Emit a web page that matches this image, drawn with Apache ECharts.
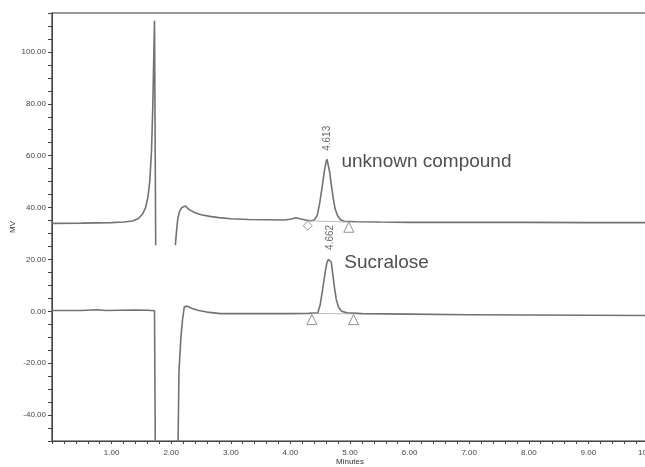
<!DOCTYPE html>
<html>
<head>
<meta charset="utf-8">
<script src="https://cdn.jsdelivr.net/npm/echarts@6/dist/echarts.min.js"></script>
<style>
  html, body { margin: 0; padding: 0; background: #fff; }
  #chart { width: 645px; height: 467px; }
</style>
</head>
<body>
<div id="chart"></div>
<script>
// upper trace (unknown compound sample), minutes / mV
var upperTime = [0, 0.5, 1.0, 1.2, 1.35, 1.45, 1.52, 1.57, 1.61, 1.64, 1.67, 1.69, 1.705, 1.72, 1.74, 1.9,
  2.07, 2.09, 2.11, 2.14, 2.18, 2.24, 2.30, 2.40, 2.50, 2.65, 2.80, 3.0, 3.3, 3.6, 3.9, 4.02, 4.09, 4.16, 4.25,
  4.34, 4.40, 4.45, 4.49, 4.53, 4.57, 4.60, 4.615, 4.63, 4.66, 4.70, 4.72, 4.75, 4.79, 4.84, 4.90, 5.1, 5.5,
  6.0, 7.0, 8.0, 9.0, 10.0]
var upperSignal = [33.9, 34.0, 34.2, 34.4, 34.8, 35.8, 37.5, 40, 44, 50, 62, 78, 95, 112, 25.5, null,
  25.5, 31, 35.6, 38.5, 40.0, 40.6, 39.2, 38.0, 37.2, 36.6, 36.1, 35.7, 35.4, 35.3, 35.2, 35.6, 36.1, 35.7, 35.2,
  34.9, 35.2, 37, 41.5, 47.5, 54, 57.8, 58.6, 58.0, 53.5, 46.5, 43.4, 39.5, 36.9, 35.3, 34.7, 34.5, 34.4,
  34.3, 34.3, 34.3, 34.2, 34.2]

// lower trace (sucralose standard)
var lowerTime = [0, 0.5, 0.76, 0.9, 1.4, 1.6, 1.72, 1.74, 2.10, 2.13, 2.16, 2.19, 2.22, 2.27, 2.33, 2.44, 2.6,
  2.83, 3.5, 4.0, 4.3, 4.46, 4.50, 4.54, 4.58, 4.61, 4.635, 4.66, 4.685, 4.71, 4.74, 4.77, 4.81, 4.86, 4.95,
  5.2, 6.0, 7.0, 8.0, 9.0, 10.0]
var lowerSignal = [0.3, 0.3, 0.6, 0.3, 0.5, 0.4, 0.2, -80, -80, -23.6, -11, -3.2, 1.7, 2.0, 1.3, 0.4, -0.3,
  -0.9, -0.9, -0.9, -0.8, -0.6, 2.5, 8.4, 14.5, 18.5, 20.0, 20.4, 19.0, 14.5, 9.0, 4.5, 1.5, 0.0, -0.6,
  -0.9, -1.1, -1.3, -1.4, -1.5, -1.6]

// peak annotations
var peakTimes = [4.613, 4.662]
var peakHeights = [58.6, 20.4]
var retentionLabels = ['4.613', '4.662']
var compoundNames = ['unknown compound', 'Sucralose']

// integration marks (start / end of each peak)
var diamondMarks = [[4.29, 33.0]]
var triangleMarks = [[4.98, 32.4], [4.36, -3.2], [5.06, -3.2]]
var baselineUpper = [[4.29, 34.9], [4.98, 34.4]]
var baselineLower = [[4.36, -0.8], [5.06, -1.0]]

var FONT = "'Liberation Sans', Arial, sans-serif"
var TRACE = '#727272'

function zip (xs, ys) {
  return xs.map(function (x, i) { return [x, ys[i]] })
}

var chart = echarts.init(document.getElementById('chart'))
chart.setOption({
  animation: false,
  backgroundColor: '#fff',
  grid: {
    left: 52, right: -3, top: 13, bottom: 26,
    outerBoundsMode: 'none', containLabel: false,
    show: true, borderColor: '#333', borderWidth: 1.2
  },
  xAxis: {
    type: 'value', min: 0, max: 10, interval: 0.2,
    name: 'Minutes', nameLocation: 'middle', nameGap: 17, nameMoveOverlap: false,
    nameTextStyle: { fontFamily: FONT, fontSize: 8, color: '#333' },
    axisLine: { onZero: false, lineStyle: { color: '#444', width: 1 } },
    axisTick: { length: 3, lineStyle: { color: '#444' } },
    splitLine: { show: false },
    axisLabel: {
      fontFamily: FONT, fontSize: 8, color: '#444', margin: 8,
      formatter: function (v) {
        return (v > 0 && Math.abs(v - Math.round(v)) < 1e-6) ? v.toFixed(2) : ''
      }
    }
  },
  yAxis: {
    type: 'value', min: -50, max: 115, interval: 5,
    name: 'MV', nameLocation: 'middle', nameGap: 35, nameRotate: 90, nameMoveOverlap: false,
    nameTextStyle: { fontFamily: FONT, fontSize: 8, color: '#333' },
    axisLine: { show: true, onZero: false, lineStyle: { color: '#444', width: 1 } },
    axisTick: { show: true, length: 4, lineStyle: { color: '#444' } },
    splitLine: { show: false },
    axisLabel: {
      fontFamily: FONT, fontSize: 8, color: '#444', margin: 6,
      formatter: function (v) {
        return (Math.abs(v % 20) < 1e-6) ? v.toFixed(2) : ''
      }
    }
  },
  series: [
    {
      name: 'unknown', type: 'line', data: zip(upperTime, upperSignal),
      showSymbol: false, connectNulls: false,
      lineStyle: { color: TRACE, width: 1.6 }
    },
    {
      name: 'sucralose', type: 'line', data: zip(lowerTime, lowerSignal),
      showSymbol: false,
      lineStyle: { color: TRACE, width: 1.6 }
    },
    {
      type: 'line', data: baselineUpper, showSymbol: false,
      lineStyle: { color: '#aaa', width: 0.8 }
    },
    {
      type: 'line', data: baselineLower, showSymbol: false,
      lineStyle: { color: '#aaa', width: 0.8 }
    },
    {
      type: 'scatter', data: diamondMarks, symbol: 'diamond', symbolSize: 9,
      itemStyle: { color: '#fff', borderColor: '#777', borderWidth: 1 }
    },
    {
      type: 'scatter', data: triangleMarks, symbol: 'triangle', symbolSize: 10,
      itemStyle: { color: '#fff', borderColor: '#777', borderWidth: 1 }
    },
    {
      // retention time labels, vertical above each peak
      type: 'scatter', symbolSize: 1,
      itemStyle: { color: 'rgba(0,0,0,0)' },
      data: peakTimes.map(function (t, i) { return { value: [t, peakHeights[i]], name: retentionLabels[i] } }),
      label: {
        show: true, position: 'top', distance: 8, rotate: 90,
        align: 'left', verticalAlign: 'middle',
        fontFamily: FONT, fontSize: 10, color: '#444',
        formatter: function (p) { return p.name }
      }
    },
    {
      // compound names to the right of each peak
      type: 'scatter', symbolSize: 1,
      itemStyle: { color: 'rgba(0,0,0,0)' },
      data: peakTimes.map(function (t, i) {
        return { value: [t, peakHeights[i]], name: compoundNames[i], label: { offset: [0, i === 0 ? 2 : 4] } }
      }),
      label: {
        show: true, position: 'right', distance: 14,
        fontFamily: FONT, fontSize: 19, color: '#222',
        formatter: function (p) { return p.name }
      }
    }
  ]
})
</script>
</body>
</html>
